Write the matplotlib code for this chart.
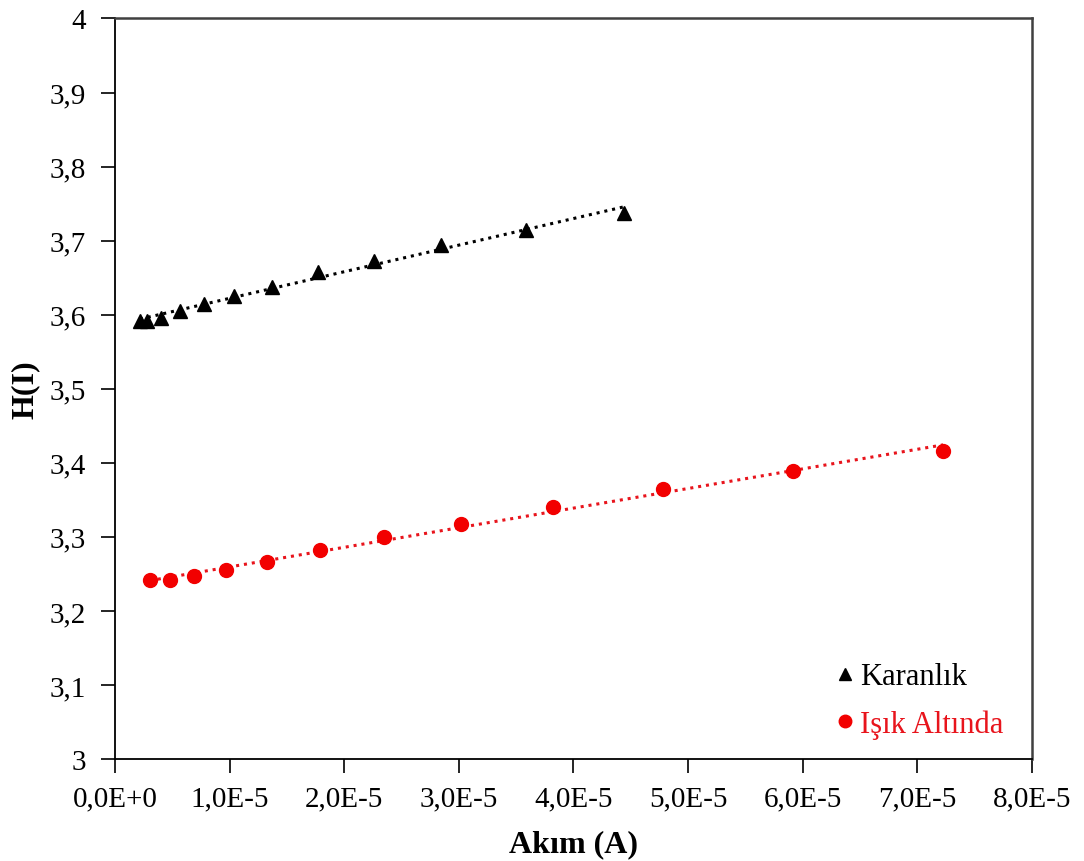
import numpy as np
import matplotlib
matplotlib.use("Agg")
import matplotlib.pyplot as plt
from matplotlib.ticker import FixedLocator
from matplotlib.lines import Line2D

plt.rcParams['font.family'] = ['Liberation Serif', 'DejaVu Serif']

# Current (A) and H(I) values
dark_current = np.array([0.218, 0.279, 0.401, 0.567, 0.777, 1.038, 1.370,
                         1.771, 2.260, 2.845, 3.586, 4.442]) * 1e-5
dark_h = [3.591, 3.592, 3.596, 3.605, 3.615, 3.625, 3.638,
          3.657, 3.673, 3.694, 3.714, 3.737]

light_current = np.array([0.305, 0.480, 0.689, 0.969, 1.326, 1.789, 2.347,
                          3.019, 3.822, 4.782, 5.916, 7.225]) * 1e-5
light_h = [3.2416, 3.2416, 3.247, 3.255, 3.266, 3.282, 3.300,
           3.318, 3.340, 3.364, 3.389, 3.416]

x_ticks = [0, 1e-5, 2e-5, 3e-5, 4e-5, 5e-5, 6e-5, 7e-5, 8e-5]
x_tick_labels = ['0,0E+0', '1,0E-5', '2,0E-5', '3,0E-5', '4,0E-5',
                 '5,0E-5', '6,0E-5', '7,0E-5', '8,0E-5']
y_ticks = [3.0, 3.1, 3.2, 3.3, 3.4, 3.5, 3.6, 3.7, 3.8, 3.9, 4.0]
y_tick_labels = ['3', '3,1', '3,2', '3,3', '3,4', '3,5', '3,6',
                 '3,7', '3,8', '3,9', '4']

series_names = ['Karanlık', 'Işık Altında']

fig = plt.figure(figsize=(10.84, 8.62), dpi=100)
ax = fig.add_axes([0.1061, 0.1183, 0.8459, 0.8591])

# Linear trend lines through each series
for xs, ys, color in [(dark_current, dark_h, 'black'),
                      (light_current, light_h, '#e8141c')]:
    k, b = np.polyfit(xs, ys, 1)
    xf = np.array([xs[0], xs[-1]])
    ax.plot(xf, k * xf + b, linestyle=(0, (1, 1.6)), color=color,
            linewidth=2.2, zorder=2)

ax.plot(dark_current, dark_h, linestyle='none', marker='^', color='black',
        markersize=10, zorder=3)
ax.plot(light_current, light_h, linestyle='none', marker='o', color='#f20000',
        markersize=10, zorder=3)

ax.set_xlim(0, 8e-5)
ax.set_ylim(3.0, 4.0)
ax.xaxis.set_major_locator(FixedLocator(x_ticks))
ax.set_xticklabels(x_tick_labels)
ax.yaxis.set_major_locator(FixedLocator(y_ticks))
ax.set_yticklabels(y_tick_labels)

ax.tick_params(axis='both', direction='out', length=10, width=1.2,
               labelsize=21, colors='black')
ax.tick_params(axis='x', pad=9)
ax.tick_params(axis='y', pad=11)

for side in ['left', 'bottom']:
    ax.spines[side].set_color('black')
    ax.spines[side].set_linewidth(1.3)
for side in ['top', 'right']:
    ax.spines[side].set_color('#404040')
    ax.spines[side].set_linewidth(1.8)

ax.set_xlabel('Akım (A)', fontsize=23, fontweight='bold', labelpad=13)
ax.set_ylabel('H(I)', fontsize=23, fontweight='bold', labelpad=7)

handles = [Line2D([], [], linestyle='none', marker='^', color='black', markersize=8),
           Line2D([], [], linestyle='none', marker='o', color='#f20000', markersize=9)]
leg = ax.legend(handles, series_names, loc='lower left', frameon=False,
                fontsize=22, handlelength=0.5, handletextpad=0.25,
                labelspacing=0.6, borderpad=0, borderaxespad=0,
                bbox_to_anchor=(0.788, 0.027))
leg.get_texts()[1].set_color('#e8141c')

fig.savefig('out.png', dpi=100, facecolor='white')
